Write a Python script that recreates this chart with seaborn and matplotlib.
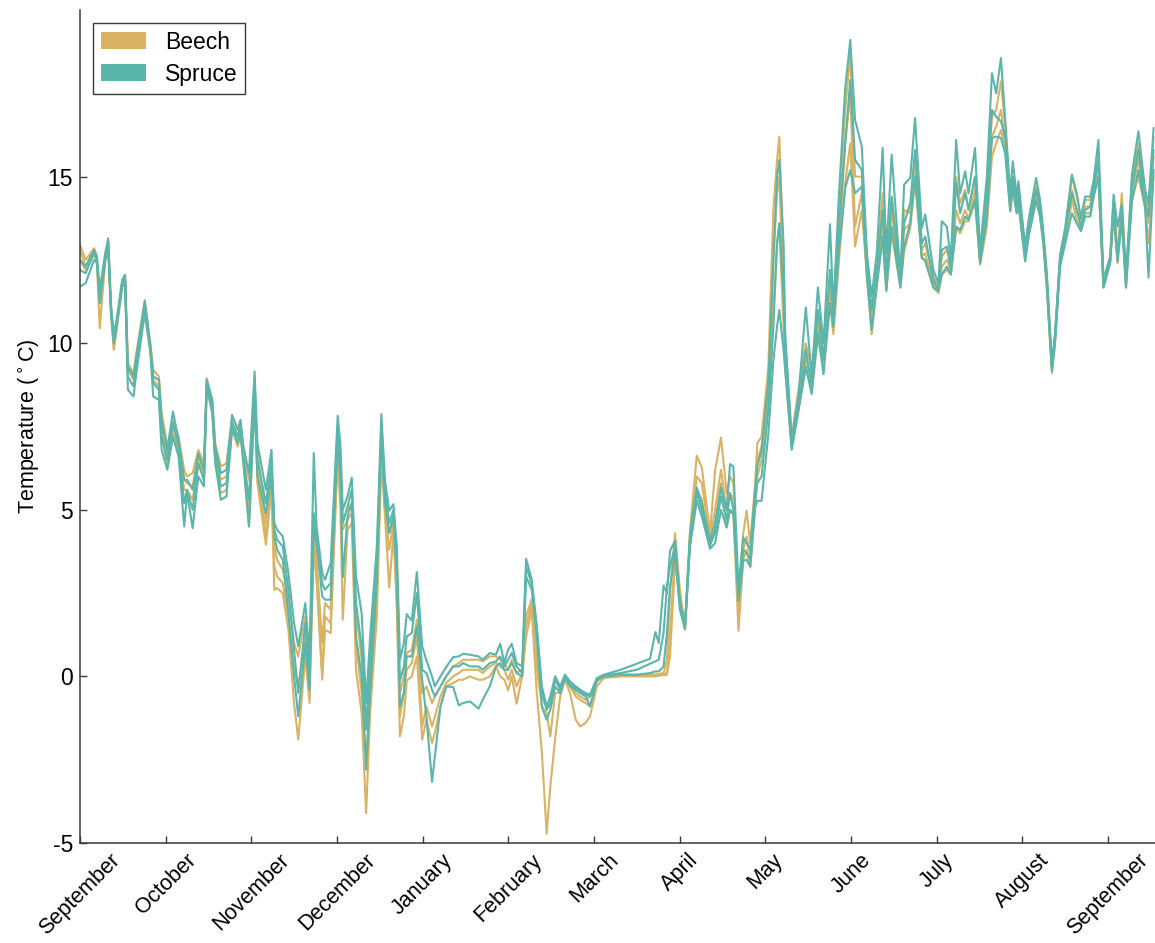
import matplotlib
matplotlib.use("Agg")
import matplotlib.pyplot as plt
from matplotlib.patches import Patch
import pandas as pd
import seaborn as sns

# Day of the measurement year (0 = 1 September)
days = [
    0, 2, 5, 6, 7, 9, 10, 11, 12, 13, 15, 16, 17, 19, 20, 23, 25, 26, 28, 29,
    31, 33, 35, 37, 38, 40, 42, 44, 45, 47, 48, 50, 52, 54, 56, 57, 58, 60,
    62, 63, 66, 68, 69, 70, 72, 74, 76, 77.5, 80, 81.5, 83, 84, 86, 87, 89,
    91.5, 92.5, 93.3, 95, 96.5, 98, 100, 101.6, 103, 105.4, 107, 108.3, 109.8, 111.3, 112.5, 113.6, 115, 116, 117.8, 119.6,
    121.5, 123, 125, 126, 128, 130, 132.5, 134.5, 136, 138.5, 141.5, 143, 145.5, 147.7, 149.2, 150.7,
    152, 153.3, 155, 157, 158.4, 160.4, 162.2, 164, 165.7, 167, 168.7, 170.5, 172.2, 174, 176, 177.6, 179.5, 181.1,
    183.5, 186, 192, 197.7, 202.4, 204.3, 205.5, 207.2, 208.4, 209.5,
    211.3, 213, 214.8, 216.6, 219, 220.8, 223.7, 225.5, 227.6, 229.6, 230.8, 232, 233.8, 235.5, 236.7, 238, 239.7,
    240.5, 242, 244.4, 246.2, 247.5, 248.3, 249.8, 250.4, 252.7, 255.1, 257.7, 259.8, 262, 264, 266.3, 267.5,
    269.5, 271.7, 273.5, 275.2, 277.6, 279.4, 281.1, 282.9, 285, 286.3, 288.2, 291.3, 292.6, 294.8, 296.5,
    298.9, 300.1, 303, 304.8, 306, 307.8, 309.2, 311.1, 312.5, 314.3, 315.5, 317.8, 319.6, 322,
    323.8, 325.3, 327, 328.5, 330.3, 331.2, 332.6, 333.2, 335.6, 336.8, 339.5, 340.9, 342.1, 343.3, 345.1, 346.2, 348, 349.8, 352.2,
    353.9, 355.4, 356.9, 358.7, 359.9, 361.6, 363.4, 365.8, 367, 368.4, 369.9, 371.4, 373.5, 375.8, 378.2, 379.4, 381.2,
]

beech_1 = [
    12.95, 12.5, 12.85, 12.6, 11.5, 12.7, 13.1, 11.2, 10.0, 10.6, 11.9, 12.05, 9.4, 9.1, 9.7, 11.3, 10.0, 9.2, 9.0, 7.9,
    6.9, 7.7, 7.2, 6.2, 6.0, 6.1, 6.8, 6.4, 8.95, 8.2, 7.0, 6.3, 6.4, 7.7, 7.2, 7.6, 6.9, 5.9,
    8.7, 6.8, 4.6, 6.0, 3.9, 3.5, 3.2, 2.4, 1.0, 0.6, 1.8, 0.3, 4.5, 3.5, 1.0, 2.2, 2.0,
    7.0, 5.9, 4.7, 5.0, 5.2, 2.0, 0.5, -1.5, 0.0, 3.0, 7.2, 5.4, 4.3, 4.8, 2.9, -0.5, 0.0, 0.7, 0.8, 1.7,
    -0.5, -0.3, -0.8, -0.6, -0.3, 0.0, 0.3, 0.4, 0.5, 0.5, 0.5, 0.45, 0.6, 0.6, 0.5, 0.4,
    0.2, 0.5, 0.1, 0.2, 1.8, 2.33, 0.7, -0.5, -0.9, -0.9, 0.0, -0.4, 0.03, -0.2, -0.5, -0.6, -0.7, -0.6,
    -0.1, 0.0, 0.05, 0.05, 0.05, 0.06, 0.07, 0.1, 0.5, 2.5,
    4.3, 2.6, 1.5, 4.4, 6.62, 6.27, 4.3, 6.17, 7.17, 5.5, 6.0, 5.8, 2.2, 4.3, 4.97, 4.0, 5.77,
    7.0, 7.2, 9.27, 14.0, 15.5, 16.2, 12.5, 10.0, 7.2, 8.6, 10.0, 9.2, 11.0, 10.0, 12.0, 11.0,
    14.0, 17.0, 18.66, 15.0, 15.0, 12.6, 10.8, 12.3, 14.5, 12.0, 14.4, 12.0, 14.0, 13.9, 15.6,
    12.8, 13.0, 12.0, 11.7, 12.6, 12.8, 12.4, 15.0, 14.2, 14.6, 14.0, 15.0, 12.6, 14.5,
    16.8, 17.0, 17.86, 16.5, 14.3, 15.0, 14.2, 14.6, 12.8, 13.6, 14.7, 14.2, 13.2, 12.0, 9.3, 10.2, 12.6, 13.4, 15.0,
    14.4, 13.76, 14.3, 14.3, 14.86, 15.8, 11.9, 12.6, 14.3, 12.6, 14.5, 12.0, 14.8, 16.0, 14.5, 14.0, 16.2,
]

beech_2 = [
    12.8, 12.3, 12.8, 12.5, 11.2, 12.6, 13.0, 11.0, 9.85, 10.5, 11.8, 11.9, 9.3, 9.0, 9.6, 11.2, 9.9, 9.0, 8.9, 7.6,
    6.6, 7.5, 7.0, 5.9, 5.8, 5.7, 6.6, 6.1, 8.9, 8.0, 6.7, 5.9, 6.0, 7.6, 7.1, 7.4, 6.7, 5.0,
    8.5, 6.2, 4.2, 5.7, 3.3, 3.0, 2.8, 1.8, 0.2, -0.3, 1.2, -0.2, 4.2, 3.0, 0.1, 1.8, 1.6,
    6.9, 5.5, 4.4, 4.7, 4.9, 1.0, -0.5, -2.5, -0.5, 2.4, 6.9, 5.0, 3.8, 4.6, 2.4, -1.2, -0.5, 0.2, 0.4, 1.2,
    -1.5, -0.9, -1.5, -1.2, -0.6, -0.2, 0.0, 0.1, 0.2, 0.2, 0.2, 0.1, 0.3, 0.4, 0.3, 0.2,
    -0.1, 0.2, -0.3, 0.1, 1.5, 2.2, 0.3, -0.9, -1.1, -1.8, -0.5, -0.5, 0.0, -0.3, -0.6, -0.7, -0.8, -0.9,
    -0.15, 0.0, 0.02, 0.02, 0.03, 0.04, 0.05, 0.07, 0.1, 1.27,
    3.8, 2.4, 1.45, 4.2, 6.0, 5.8, 4.1, 5.0, 6.2, 5.0, 5.5, 5.3, 1.8, 3.8, 4.2, 3.6, 5.4,
    6.5, 6.9, 8.8, 12.5, 14.5, 15.0, 11.5, 9.7, 7.0, 8.3, 9.5, 8.9, 10.6, 9.6, 11.6, 10.6,
    13.0, 16.0, 17.5, 13.5, 14.5, 12.3, 10.5, 12.0, 13.7, 11.8, 14.0, 11.8, 13.4, 13.6, 15.2,
    12.6, 12.7, 11.8, 11.57, 12.3, 12.5, 12.2, 14.0, 13.6, 14.0, 13.7, 14.6, 12.4, 14.0,
    16.2, 16.5, 17.0, 16.0, 14.1, 14.8, 14.0, 14.4, 12.6, 13.4, 14.5, 14.0, 13.0, 11.8, 9.2, 10.1, 12.5, 13.2, 14.6,
    14.0, 13.6, 14.1, 14.1, 14.6, 15.4, 11.75, 12.5, 14.0, 12.46, 14.2, 11.8, 14.6, 15.5, 14.2, 13.6, 15.6,
]

beech_3 = [
    12.5, 12.2, 12.7, 12.4, 10.45, 12.5, 12.9, 10.9, 9.8, 10.4, 11.7, 11.8, 9.2, 8.9, 9.5, 11.0, 9.8, 8.9, 8.7, 7.3,
    6.3, 7.3, 6.8, 5.6, 5.6, 5.3, 6.4, 5.9, 8.7, 7.9, 6.5, 5.5, 5.6, 7.4, 6.9, 7.2, 6.5, 4.5,
    8.3, 5.8, 3.95, 5.6, 2.6, 2.65, 2.5, 1.4, -0.8, -1.9, 0.6, -0.8, 3.9, 2.9, -0.1, 1.4, 1.3,
    6.6, 5.0, 1.7, 4.4, 4.6, 0.2, -1.1, -4.1, -1.1, 1.8, 6.5, 4.8, 2.67, 4.3, 2.0, -1.8, -1.2, -0.13, 0.0, 0.6,
    -1.9, -1.3, -2.0, -1.7, -0.9, -0.3, -0.2, -0.1, -0.1, 0.0, -0.1, -0.1, 0.0, 0.3, 0.0, -0.1,
    -0.42, 0.0, -0.82, 0.0, 1.2, 1.98, -0.5, -2.3, -4.72, -3.3, -1.87, -0.6, -0.1, -0.5, -1.3, -1.5, -1.4, -1.2,
    -0.3, -0.05, 0.0, 0.0, 0.0, 0.0, 0.02, 0.04, 0.05, 0.6,
    3.5, 2.2, 1.4, 4.0, 5.6, 5.3, 3.9, 4.5, 5.8, 4.47, 5.0, 4.87, 1.37, 3.5, 3.8, 3.27, 5.07,
    6.0, 6.5, 8.3, 11.0, 13.0, 13.5, 10.5, 9.3, 6.9, 8.0, 9.27, 8.6, 10.2, 9.3, 11.2, 10.27,
    12.5, 14.8, 16.0, 12.9, 14.0, 12.0, 10.27, 11.8, 13.2, 11.57, 13.3, 11.67, 12.76, 13.46, 14.86,
    12.56, 12.46, 11.67, 11.5, 12.06, 12.2, 12.06, 13.46, 13.3, 13.66, 13.66, 14.26, 12.36, 13.5,
    15.6, 16.0, 16.4, 15.8, 13.96, 14.6, 13.9, 14.2, 12.46, 13.2, 14.3, 13.8, 12.96, 11.6, 9.1, 10.0, 12.4, 13.0, 14.3,
    13.7, 13.4, 13.9, 13.9, 14.4, 15.0, 11.67, 12.46, 13.8, 12.4, 13.9, 11.67, 14.3, 15.0, 14.06, 13.0, 15.0,
]

spruce_1 = [
    12.5, 12.3, 12.8, 12.6, 11.6, 12.7, 13.15, 11.1, 10.3, 10.7, 11.9, 12.05, 9.3, 9.0, 9.6, 11.25, 9.9, 9.0, 8.9, 7.7,
    6.8, 7.95, 7.1, 5.9, 5.9, 5.6, 6.7, 6.2, 8.9, 8.3, 6.9, 6.1, 6.2, 7.85, 7.4, 7.7, 6.9, 6.1,
    9.15, 7.0, 5.6, 6.8, 4.6, 4.4, 4.2, 3.1, 1.6, 0.9, 2.2, 0.6, 6.7, 4.5, 3.1, 2.9, 3.4,
    7.82, 6.9, 5.0, 5.4, 5.97, 3.0, 1.9, -0.8, 1.17, 3.9, 7.87, 5.87, 4.97, 5.17, 3.87, 0.5, 1.0, 1.87, 1.67, 3.13,
    0.9, 0.48, 0.0, -0.3, 0.0, 0.28, 0.58, 0.6, 0.68, 0.65, 0.6, 0.5, 0.7, 0.65, 0.98, 0.4,
    0.8, 0.98, 0.4, 0.3, 3.53, 2.9, 1.5, -0.3, -0.9, -0.6, 0.0, -0.3, 0.05, -0.15, -0.3, -0.4, -0.5, -0.55,
    -0.05, 0.05, 0.2, 0.38, 0.53, 1.33, 1.0, 2.73, 2.5, 3.77,
    4.07, 2.27, 1.5, 4.27, 5.67, 5.2, 4.07, 4.6, 5.67, 5.0, 6.37, 6.3, 2.7, 4.17, 4.0, 3.8, 5.6,
    6.3, 6.8, 8.8, 12.5, 15.0, 15.5, 13.0, 10.3, 7.1, 8.4, 11.07, 9.0, 11.67, 10.0, 13.57, 11.0,
    14.5, 17.66, 19.1, 16.7, 15.9, 12.7, 11.4, 12.7, 15.86, 12.7, 15.66, 12.0, 14.76, 14.96, 16.76,
    13.46, 13.86, 12.2, 11.8, 13.66, 13.5, 12.5, 16.1, 14.5, 15.16, 14.5, 15.86, 12.76, 15.0,
    18.1, 17.5, 18.56, 16.7, 14.5, 15.46, 14.4, 14.86, 12.9, 13.7, 14.96, 14.3, 13.3, 12.1, 9.4, 10.3, 12.66, 13.46, 15.06,
    14.5, 13.76, 14.4, 14.4, 14.86, 16.1, 11.9, 12.6, 14.46, 13.5, 14.16, 12.0, 15.06, 16.36, 14.6, 14.2, 16.46,
]

spruce_2 = [
    12.2, 12.1, 12.7, 12.5, 11.4, 12.6, 13.0, 11.0, 10.1, 10.6, 11.8, 11.95, 9.0, 8.7, 9.4, 11.1, 9.8, 8.8, 8.6, 7.2,
    6.5, 7.6, 6.9, 5.2, 5.6, 5.0, 6.4, 5.9, 8.8, 8.0, 6.6, 5.7, 5.8, 7.6, 7.2, 7.5, 6.6, 5.3,
    8.6, 6.5, 5.2, 6.4, 4.4, 4.1, 3.9, 2.6, 0.8, -0.5, 1.6, 0.2, 4.9, 4.2, 2.8, 2.6, 2.8,
    7.5, 6.3, 4.6, 5.1, 5.6, 2.2, 0.9, -1.6, 0.5, 3.4, 7.6, 5.5, 4.6, 5.0, 3.4, -0.13, 0.3, 1.2, 1.3, 2.5,
    0.2, 0.1, -0.4, -0.6, -0.3, 0.0, 0.3, 0.3, 0.4, 0.3, 0.3, 0.2, 0.4, 0.45, 0.6, 0.3,
    0.5, 0.7, 0.3, 0.1, 3.3, 2.78, 1.4, -0.52, -1.0, -0.8, -0.1, -0.4, 0.0, -0.2, -0.35, -0.45, -0.55, -0.6,
    -0.1, 0.03, 0.1, 0.2, 0.38, 0.45, 0.5, 1.3, 2.7, 3.3,
    3.9, 2.1, 1.45, 4.1, 5.5, 5.0, 3.95, 4.3, 5.4, 4.7, 5.5, 5.0, 2.5, 3.8, 3.7, 3.5, 5.3,
    5.8, 6.0, 8.0, 10.5, 13.0, 13.6, 11.5, 9.6, 6.9, 8.1, 9.8, 8.7, 11.0, 9.5, 12.2, 10.8,
    13.5, 16.0, 17.9, 15.5, 15.2, 12.4, 11.0, 12.2, 14.0, 12.0, 14.4, 11.8, 13.6, 14.2, 15.8,
    13.0, 13.2, 11.9, 11.6, 12.8, 12.9, 12.2, 14.8, 13.9, 14.5, 14.0, 15.0, 12.5, 14.5,
    17.0, 16.8, 16.66, 16.2, 14.2, 15.0, 14.1, 14.5, 12.7, 13.4, 14.6, 14.1, 13.1, 11.8, 9.3, 10.17, 12.5, 13.3, 14.5,
    14.0, 13.5, 14.0, 14.1, 14.6, 15.5, 11.75, 12.5, 14.2, 12.6, 13.9, 11.8, 14.6, 15.8, 14.2, 13.8, 15.8,
]

spruce_3 = [
    11.7, 11.8, 12.5, 12.4, 11.2, 12.5, 12.9, 10.9, 10.0, 10.5, 11.7, 11.8, 8.6, 8.4, 9.1, 10.9, 9.7, 8.4, 8.3, 6.8,
    6.2, 7.2, 6.6, 4.5, 5.5, 4.45, 6.0, 5.7, 8.7, 7.9, 6.4, 5.3, 5.4, 7.45, 7.0, 7.3, 6.4, 4.5,
    8.3, 6.0, 4.9, 6.0, 4.2, 3.8, 3.5, 1.9, 0.0, -1.2, 1.0, -0.4, 4.5, 4.0, 2.4, 2.3, 2.3,
    7.1, 5.9, 2.97, 4.8, 5.2, 1.2, 0.0, -2.8, -0.5, 2.9, 7.2, 5.2, 4.3, 4.8, 3.0, -0.9, -0.5, 0.6, 0.6, 1.5,
    -0.1, -1.2, -3.17, -2.4, -0.9, -0.3, -0.32, -0.87, -0.8, -0.75, -0.97, -0.7, -0.3, 0.3, 0.4, 0.2,
    0.2, 0.4, 0.1, 0.0, 3.0, 2.6, 1.2, -0.92, -1.3, -1.0, -0.3, -0.5, -0.05, -0.3, -0.4, -0.5, -0.6, -0.9,
    -0.12, 0.0, 0.05, 0.05, 0.1, 0.15, 0.15, 0.3, 1.3, 2.7,
    3.7, 2.0, 1.43, 3.9, 5.27, 4.8, 3.83, 4.0, 5.0, 4.47, 5.0, 4.87, 2.27, 3.47, 3.5, 3.3, 5.07,
    5.27, 5.27, 7.27, 9.5, 10.5, 11.0, 9.8, 9.17, 6.8, 7.97, 9.3, 8.47, 10.3, 9.07, 11.2, 10.5,
    12.8, 14.66, 15.2, 14.5, 14.7, 12.0, 10.4, 11.7, 13.2, 11.57, 13.5, 11.67, 12.9, 13.6, 15.0,
    12.56, 12.5, 11.67, 11.57, 12.06, 12.3, 12.06, 13.5, 13.4, 13.8, 13.7, 14.3, 12.4, 13.8,
    16.16, 16.2, 16.16, 15.7, 13.96, 14.7, 13.9, 14.2, 12.46, 13.2, 14.3, 13.8, 12.96, 11.7, 9.17, 10.0, 12.3, 13.0, 13.9,
    13.6, 13.36, 13.8, 13.8, 14.4, 15.0, 11.67, 12.4, 14.06, 12.46, 13.66, 11.67, 14.26, 15.2, 14.06, 11.97, 15.2,
]

month_labels = ["September", "October", "November", "December", "January",
                "February", "March", "April", "May", "June", "July",
                "August", "September"]
temperature_ticks = [-5, 0, 5, 10, 15]
species_colors = {"Beech": "#D9B264", "Spruce": "#5AB5AA"}

sensors = {
    "Beech": [beech_1, beech_2, beech_3],
    "Spruce": [spruce_1, spruce_2, spruce_3],
}

frames = []
for species, series_list in sensors.items():
    for k, values in enumerate(series_list):
        if len(values) != len(days):
            raise ValueError(f"{species} sensor {k + 1}: {len(values)} values for {len(days)} days")
        frames.append(pd.DataFrame({
            "day": days,
            "temperature": values,
            "species": species,
            "sensor": f"{species} {k + 1}",
        }))
data = pd.concat(frames, ignore_index=True)

sns.set_style("ticks")
plt.rcParams["font.family"] = ["Liberation Sans", "DejaVu Sans"]
plt.rcParams["axes.edgecolor"] = "#3a3a3a"
plt.rcParams["text.color"] = "black"
plt.rcParams["axes.labelcolor"] = "black"

fig = plt.figure(figsize=(11.55, 9.43), dpi=100)
ax = fig.add_axes([80 / 1155, 100 / 943, 1075 / 1155, 833 / 943])

sns.lineplot(data=data, x="day", y="temperature", hue="species",
             units="sensor", estimator=None, sort=False,
             palette=species_colors, linewidth=1.5, legend=False, ax=ax)

month_length = 365 / 12
ax.set_xlim(0, 381.7)
ax.set_ylim(-5, 20)
ax.set_xticks([i * month_length for i in range(len(month_labels))])
ax.set_xticklabels(month_labels, rotation=45, fontsize=15.5)
ax.set_yticks(temperature_ticks)
ax.set_yticklabels([str(t) for t in temperature_ticks], fontsize=16.5)
ax.tick_params(direction="in", length=5, width=1, color="#3a3a3a",
               labelcolor="black", pad=5)
ax.set_xlabel("")
ax.set_ylabel("Temperature ($^\\circ$C)", fontsize=15.5, labelpad=4)
sns.despine(ax=ax)
for side in ("left", "bottom"):
    ax.spines[side].set_linewidth(1.1)

handles = [Patch(facecolor=species_colors[s], edgecolor="none", label=s)
           for s in ("Beech", "Spruce")]
leg = ax.legend(handles=handles, loc="upper left", fontsize=16.5, frameon=True,
                fancybox=False, framealpha=1, edgecolor="#3a3a3a",
                handlelength=2.0, handleheight=0.75, handletextpad=0.8,
                borderpad=0.35, labelspacing=0.4, borderaxespad=0.55)
leg.get_frame().set_linewidth(1.0)

fig.savefig("out.png", dpi=100)
